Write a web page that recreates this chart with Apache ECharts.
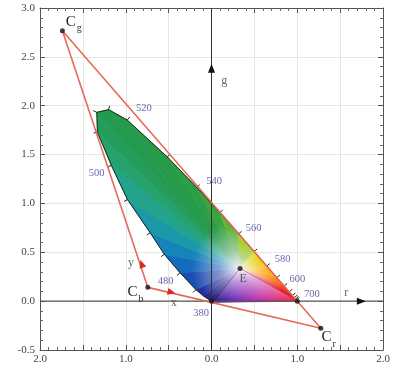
<!DOCTYPE html>
<html>
<head>
<meta charset="utf-8">
<script src="https://cdn.jsdelivr.net/npm/echarts@6/dist/echarts.min.js"></script>
<style>
html, body { margin: 0; padding: 0; background: #fff; }
#chart { width: 398px; height: 370px; }
</style>
</head>
<body>
<div id="chart"></div>
<script>
// spectral locus in rg chromaticity coordinates
var wavelengths = [380, 400, 420, 430, 440, 450, 460, 470, 480, 485, 490, 495, 500, 505, 510, 515, 520, 530, 540, 550, 560, 570, 580, 590, 600, 610, 620, 630, 640, 650, 700];
var locusR = [0.027, 0.024, 0.018, 0.009, -0.008, -0.039, -0.091, -0.182, -0.367, -0.55, -0.715, -0.98, -1.168, -1.33, -1.337, -1.20, -0.983, -0.516, -0.171, 0.097, 0.316, 0.497, 0.645, 0.762, 0.848, 0.906, 0.943, 0.965, 0.980, 0.989, 1.0];
var locusG = [-0.012, -0.011, -0.009, -0.005, 0.005, 0.022, 0.052, 0.118, 0.291, 0.48, 0.700, 1.04, 1.390, 1.73, 1.932, 1.96, 1.853, 1.476, 1.163, 0.905, 0.688, 0.507, 0.358, 0.240, 0.154, 0.095, 0.058, 0.035, 0.021, 0.011, 0.0];

// primaries Cg, Cb, Cr and equal-energy point E
var primName = ['g', 'b', 'r'];
var primR = [-1.739, -0.743, 1.275];
var primG = [2.767, 0.141, -0.278];
var primLabelR = [-1.64, -0.92, 1.34];
var primLabelG = [2.86, 0.09, -0.37];
var whiteR = 0.333;
var whiteG = 0.333;

// wavelength labels
var nmText = ['380', '480', '500', '520', '540', '560', '580', '600', '700'];
var nmR = [-0.12, -0.535, -1.34, -0.79, 0.03, 0.49, 0.83, 1.0, 1.17];
var nmG = [-0.12, 0.205, 1.31, 1.975, 1.23, 0.75, 0.43, 0.225, 0.07];

// other annotations
var noteText = ['E', 'x', 'y', 'g', 'r'];
var noteR = [0.37, -0.44, -0.94, 0.15, 1.57];
var noteG = [0.225, -0.02, 0.39, 2.25, 0.09];

// arrow heads: tip and the point they aim at
var arrowR = [-0.83, -0.42, 0.0, 1.80];
var arrowG = [0.42, 0.08, 2.43, 0.0];
var aimR = [-1.739, 1.275, 0.0, 2.0];
var aimG = [2.767, -0.278, 3.0, 0.0];

var axisSpanR = [-2, 2];
var axisSpanG = [-0.5, 3.0];
var xTicks = [-2, -1.5, -1, -0.5, 0, 0.5, 1, 1.5, 2];
var yTicks = [-0.5, 0, 0.5, 1, 1.5, 2, 2.5, 3];

var locusColors = ['#1b0f4a', '#1b0f4a', '#1c1258', '#1e1866', '#221c78', '#262088', '#242a98', '#1c3ca8',
  '#1660bc', '#1478bc', '#1690b4', '#20a29c', '#26a47c', '#26a062', '#249a52', '#249a4e', '#269a4a',
  '#2a9c46', '#32a042', '#44a83c', '#7ac034', '#d8e020', '#ffc820', '#ff9818', '#f86018', '#f03820',
  '#e82424', '#e42028', '#e21e2a', '#e01e2c', '#e01e30'];
var whiteColor = '#f6f2f6';
var serif = '"Liberation Serif", "DejaVu Serif", serif';

function hexRgb(h) {
  return [parseInt(h.substr(1, 2), 16), parseInt(h.substr(3, 2), 16), parseInt(h.substr(5, 2), 16)];
}
function mix(a, b, t) {
  var x = hexRgb(a), y = hexRgb(b);
  var c = [0, 1, 2].map(function (k) { return Math.round(x[k] * (1 - t) + y[k] * t); });
  return 'rgb(' + c.join(',') + ')';
}

var chart = echarts.init(document.getElementById('chart'));

var fanData = [];
for (var i = 0; i < wavelengths.length; i++) {
  fanData.push([locusR[i], locusG[i], i]);
}

function fanItem(params, api) {
  var i = api.value(2);
  var n = wavelengths.length;
  var e = api.coord([whiteR, whiteG]);
  if (i === n - 1) {
    // line of purples
    var a0 = api.coord([locusR[n - 1], locusG[n - 1]]);
    var b0 = api.coord([locusR[0], locusG[0]]);
    var hor = new echarts.graphic.LinearGradient(b0[0], 0, a0[0], 0, [
      { offset: 0, color: '#2a1488' },
      { offset: 0.25, color: '#6a28b8' },
      { offset: 0.55, color: '#c02ca8' },
      { offset: 0.8, color: '#e62a70' },
      { offset: 1, color: '#e42834' }
    ], true);
    var ver = new echarts.graphic.LinearGradient(0, e[1], 0, a0[1], [
      { offset: 0, color: 'rgba(247,242,247,1)' },
      { offset: 0.45, color: 'rgba(250,245,250,0.5)' },
      { offset: 1, color: 'rgba(255,255,255,0)' }
    ], true);
    var pts = [e, a0, b0];
    return {
      type: 'group',
      children: [
        { type: 'polygon', shape: { points: pts }, style: { fill: hor, stroke: hor, lineWidth: 0.8 } },
        { type: 'polygon', shape: { points: pts }, style: { fill: ver } }
      ]
    };
  }
  var a = api.coord([locusR[i], locusG[i]]);
  var b = api.coord([locusR[i + 1], locusG[i + 1]]);
  var m = [(a[0] + b[0]) / 2, (a[1] + b[1]) / 2];
  var d = Math.hypot(m[0] - e[0], m[1] - e[1]) || 1;
  var f = Math.min(0.4, 20 / d);
  var edge = mix(locusColors[i], locusColors[i + 1], 0.5);
  var soft = mix(locusColors[i], whiteColor, 0.5);
  var grad = new echarts.graphic.LinearGradient(e[0], e[1], m[0], m[1], [
    { offset: 0, color: whiteColor },
    { offset: f, color: soft },
    { offset: Math.min(0.92, f * 2.4), color: edge },
    { offset: 1, color: edge }
  ], true);
  return {
    type: 'polygon',
    shape: { points: [e, a, b] },
    style: { fill: grad, stroke: grad, lineWidth: 0.8 }
  };
}

function tickItem(params, api) {
  var i = api.value(2);
  var w = wavelengths[i];
  if (w < 470 || w > 650) return null;
  var p = api.coord([locusR[i], locusG[i]]);
  var pa = api.coord([locusR[i - 1], locusG[i - 1]]);
  var pb = api.coord([locusR[i + 1], locusG[i + 1]]);
  var e = api.coord([whiteR, whiteG]);
  var tx = pb[0] - pa[0], ty = pb[1] - pa[1];
  var len = Math.hypot(tx, ty) || 1;
  var nx = -ty / len, ny = tx / len;
  if (nx * (p[0] - e[0]) + ny * (p[1] - e[1]) < 0) { nx = -nx; ny = -ny; }
  return {
    type: 'line',
    shape: { x1: p[0], y1: p[1], x2: p[0] + nx * 4, y2: p[1] + ny * 4 },
    style: { stroke: '#222', lineWidth: 1 }
  };
}

function arrowItem(params, api) {
  var i = params.dataIndex;
  var tip = api.coord([arrowR[i], arrowG[i]]);
  var aim = api.coord([aimR[i], aimG[i]]);
  var dx = aim[0] - tip[0], dy = aim[1] - tip[1];
  var len = Math.hypot(dx, dy) || 1;
  dx /= len; dy /= len;
  var L = i < 2 ? 8 : 9, W = 3.5;
  var bx = tip[0] - dx * L, by = tip[1] - dy * L;
  return {
    type: 'polygon',
    shape: { points: [tip, [bx - dy * W, by + dx * W], [bx + dy * W, by - dx * W]] },
    style: { fill: i < 2 ? '#d42a2a' : '#111' }
  };
}

function primLabelItem(params, api) {
  var i = params.dataIndex;
  var p = api.coord([primLabelR[i], primLabelG[i]]);
  return {
    type: 'group',
    children: [
      { type: 'text', x: p[0], y: p[1], style: { text: 'C', fill: '#222', font: '15px ' + serif, align: 'center', verticalAlign: 'middle' } },
      { type: 'text', x: p[0] + 6, y: p[1] + 7, style: { text: primName[i], fill: '#333', font: '10px ' + serif, align: 'left', verticalAlign: 'middle' } }
    ]
  };
}

var option = {
  animation: false,
  grid: { left: 40, right: 15, top: 8, bottom: 20 },
  xAxis: [{
    type: 'value', min: axisSpanR[0], max: axisSpanR[1], interval: 0.5,
    axisLine: { onZero: false, lineStyle: { color: '#555' } },
    axisTick: { inside: true, length: 5, lineStyle: { color: '#555' } },
    minorTick: { show: true, splitNumber: 5, length: 3, lineStyle: { color: '#666' } },
    splitLine: { show: true, lineStyle: { color: '#e6e6e6' } },
    axisLabel: {
      margin: 4, color: '#444', fontFamily: serif, fontSize: 11,
      formatter: function (v) { return xTicks.indexOf(v) >= 0 && Math.abs(v % 1) < 1e-9 ? Math.abs(v).toFixed(1) : ''; }
    }
  }, {
    type: 'value', position: 'top', min: axisSpanR[0], max: axisSpanR[1], interval: 0.5,
    axisLine: { onZero: false, lineStyle: { color: '#555' } },
    axisTick: { inside: true, length: 5, lineStyle: { color: '#555' } },
    minorTick: { show: true, splitNumber: 5, length: 3, lineStyle: { color: '#666' } },
    splitLine: { show: false },
    axisLabel: { show: false }
  }],
  yAxis: [{
    type: 'value', min: axisSpanG[0], max: axisSpanG[1], interval: 0.5,
    axisLine: { show: true, onZero: false, lineStyle: { color: '#555' } },
    axisTick: { show: true, inside: true, length: 5, lineStyle: { color: '#555' } },
    minorTick: { show: true, splitNumber: 5, length: 3, lineStyle: { color: '#666' } },
    splitLine: { show: true, lineStyle: { color: '#e6e6e6' } },
    axisLabel: {
      margin: 5, color: '#444', fontFamily: serif, fontSize: 11,
      formatter: function (v) { return yTicks.indexOf(v) >= 0 ? v.toFixed(1) : ''; }
    }
  }, {
    type: 'value', position: 'right', min: axisSpanG[0], max: axisSpanG[1], interval: 0.5,
    axisLine: { show: true, onZero: false, lineStyle: { color: '#555' } },
    axisTick: { show: true, inside: true, length: 5, lineStyle: { color: '#555' } },
    minorTick: { show: true, splitNumber: 5, length: 3, lineStyle: { color: '#666' } },
    splitLine: { show: false },
    axisLabel: { show: false }
  }],
  series: [
    {
      name: 'fill', type: 'custom', renderItem: fanItem, data: fanData,
      encode: { x: 0, y: 1 }, z: 2, silent: true
    },
    {
      name: 'locus', type: 'line', data: locusR.map(function (r, i) { return [r, locusG[i]]; }),
      showSymbol: false, lineStyle: { color: '#1a2a1a', width: 1 }, z: 3, silent: true
    },
    {
      name: 'ticks', type: 'custom', renderItem: tickItem, data: fanData,
      encode: { x: 0, y: 1 }, z: 3, silent: true
    },
    {
      name: 'g axis', type: 'line', data: axisSpanG.map(function (g) { return [0, g]; }),
      showSymbol: false, lineStyle: { color: '#333', width: 1 }, z: 4, silent: true
    },
    {
      name: 'r axis', type: 'line', data: axisSpanR.map(function (r) { return [r, 0]; }),
      showSymbol: false, lineStyle: { color: '#555', width: 1.4 }, z: 4, silent: true
    },
    {
      name: 'triangle', type: 'line',
      data: [0, 1, 2, 0].map(function (k) { return [primR[k], primG[k]]; }),
      showSymbol: false, lineStyle: { color: '#e46a5a', width: 1.6 }, z: 5, silent: true
    },
    {
      name: 'arrows', type: 'custom', renderItem: arrowItem,
      data: arrowR.map(function (r, i) { return [r, arrowG[i]]; }),
      encode: { x: 0, y: 1 }, z: 6, silent: true
    },
    {
      name: 'points', type: 'scatter', symbolSize: 5, itemStyle: { color: '#111' },
      data: primR.map(function (r, i) { return [r, primG[i]]; })
        .concat([[whiteR, whiteG], [locusR[locusR.length - 1], locusG[locusG.length - 1]], [0, 0]]),
      z: 7, silent: true
    },
    {
      name: 'nm labels', type: 'scatter', symbolSize: 0,
      data: nmR.map(function (r, i) { return [r, nmG[i]]; }),
      label: {
        show: true, position: 'inside', color: '#3d3d9e', fontFamily: serif, fontSize: 10.5,
        formatter: function (p) { return nmText[p.dataIndex]; }
      },
      z: 8, silent: true
    },
    {
      name: 'notes', type: 'scatter', symbolSize: 0,
      data: noteR.map(function (r, i) { return [r, noteG[i]]; }),
      label: {
        show: true, position: 'inside', fontFamily: serif, fontSize: 12,
        color: '#444',
        formatter: function (p) { return noteText[p.dataIndex]; },
        rich: {}
      },
      itemStyle: { color: 'transparent' },
      z: 8, silent: true
    },
    {
      name: 'primary labels', type: 'custom', renderItem: primLabelItem,
      data: primLabelR.map(function (r, i) { return [r, primLabelG[i]]; }),
      encode: { x: 0, y: 1 }, z: 8, silent: true
    }
  ]
};

chart.setOption(option);
</script>
</body>
</html>
